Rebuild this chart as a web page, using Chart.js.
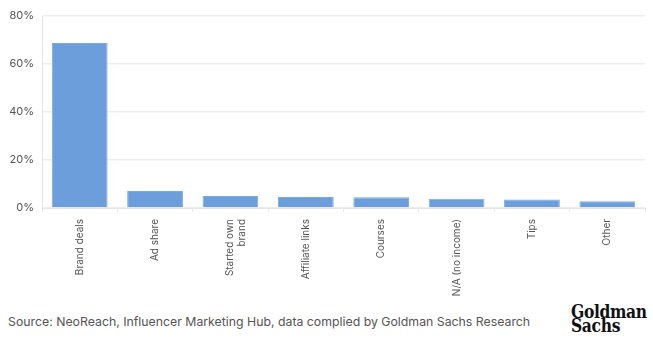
<!DOCTYPE html>
<html>
<head>
<meta charset="utf-8">
<script src="https://cdn.jsdelivr.net/npm/chart.js@4.4.1/dist/chart.umd.min.js"></script>
<style>
  html, body { margin: 0; padding: 0; background: #fff; }
  #wrap { position: relative; width: 653px; height: 338px; overflow: hidden; }
  #box { position: absolute; left: 0; top: 0; width: 653px; height: 300px; }
  #source { position: absolute; left: 8px; top: 314px; font-family: Inter, "Open Sans", sans-serif;
            font-size: 12.3px; color: #555; white-space: nowrap; }
  #logo { position: absolute; left: 571px; top: 304px; font-family: "DejaVu Serif Condensed", "Liberation Serif", serif;
          font-weight: bold; font-size: 19px; line-height: 14px; color: #111; letter-spacing: -0.4px;
          transform: scaleX(0.91); transform-origin: left top; }
</style>
</head>
<body>
<div id="wrap">
  <div id="box"><canvas id="c"></canvas></div>
  <div id="source">Source: NeoReach, Influencer Marketing Hub, data complied by Goldman Sachs Research</div>
  <div id="logo">Goldman<br>Sachs</div>
</div>
<script>
// Income sources reported by creators (% of respondents)
const categories = ["Brand deals", "Ad share", ["Started own", "brand"], "Affiliate links", "Courses", "N/A (no income)", "Tips", "Other"];
const shares = [68.8, 7.1, 5.0, 4.6, 4.5, 3.9, 3.5, 2.8];
const yTicks = [0, 20, 40, 60, 80];

new Chart(document.getElementById('c'), {
  type: 'bar',
  data: {
    labels: categories,
    datasets: [{
      data: shares,
      backgroundColor: '#6b9edb',
      borderColor: '#7aaae3',
      borderWidth: 1,
      categoryPercentage: 1,
      barPercentage: 0.74
    }]
  },
  options: {
    responsive: true,
    maintainAspectRatio: false,
    animation: false,
    layout: { padding: { top: 16, right: 8, left: 0, bottom: 0 } },
    plugins: { legend: { display: false }, tooltip: { enabled: false } },
    scales: {
      x: {
        grid: { display: true, drawOnChartArea: false, drawTicks: true, tickLength: 4, color: '#e6e6e6' },
        border: { color: '#e6e6e6', width: 1 },
        ticks: {
          minRotation: 90, maxRotation: 90, autoSkip: false, padding: 7,
          color: '#555', font: { family: 'Inter, "Open Sans", sans-serif', size: 10 }
        },
        afterFit(s) { s.height = 92; }
      },
      y: {
        min: 0, max: 80,
        afterBuildTicks(s) { s.ticks = yTicks.map(v => ({ value: v })); },
        grid: { color: '#ededed', lineWidth: 1.5, drawTicks: false },
        border: { color: '#e6e6e6', width: 1 },
        ticks: {
          padding: 8, color: '#555',
          font: { family: 'Inter, "Open Sans", sans-serif', size: 11 },
          callback: v => v + '%'
        },
        afterFit(s) { s.width = 42; }
      }
    }
  }
});
</script>
</body>
</html>
